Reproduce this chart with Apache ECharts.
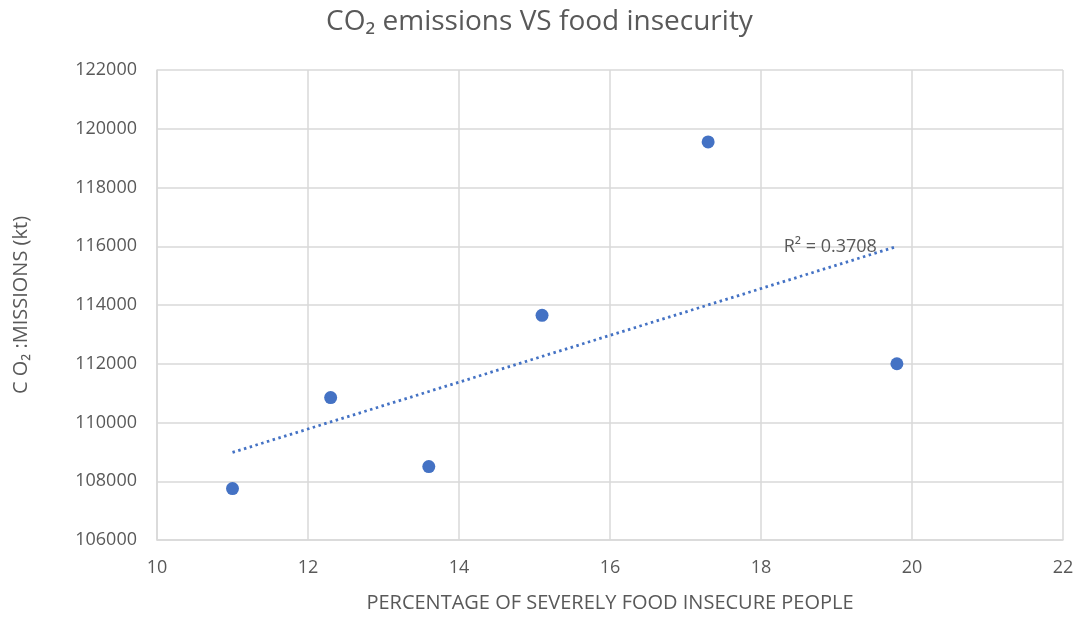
<!DOCTYPE html>
<html>
<head>
<meta charset="utf-8">
<script src="https://cdn.jsdelivr.net/npm/echarts@6/dist/echarts.min.js"></script>
<style>html,body{margin:0;padding:0;background:#fff;}#c{width:1079px;height:618px;}</style>
</head>
<body>
<div id="c"></div>
<script>
const titleText = 'CO₂ emissions VS food insecurity';
const xName = 'PERCENTAGE OF SEVERELY FOOD INSECURE PEOPLE';
const yName = 'C O₂ :MISSIONS (kt)';
const foodInsecurity = [11.0, 12.3, 13.6, 15.1, 17.3, 19.8];
const co2Emissions = [107750, 110850, 108500, 113650, 119550, 112000];
const r2Text = 'R² = 0.3708';

const n = foodInsecurity.length;
const mx = foodInsecurity.reduce((a, b) => a + b, 0) / n;
const my = co2Emissions.reduce((a, b) => a + b, 0) / n;
let sxy = 0, sxx = 0;
for (let i = 0; i < n; i++) {
  sxy += (foodInsecurity[i] - mx) * (co2Emissions[i] - my);
  sxx += (foodInsecurity[i] - mx) ** 2;
}
const slope = sxy / sxx, icpt = my - slope * mx;
const xMin = Math.min(...foodInsecurity), xMax = Math.max(...foodInsecurity);
const trend = [[xMin, icpt + slope * xMin], [xMax, icpt + slope * xMax]];

const font = 'Open Sans';
const chart = echarts.init(document.getElementById('c'));
chart.setOption({
  animation: false,
  title: {
    text: titleText, left: 'center', top: 3,
    textStyle: { fontFamily: font, fontSize: 28, fontWeight: 'normal', color: '#595959' }
  },
  grid: { left: 157, right: 16, top: 70, bottom: 76 },
  xAxis: {
    type: 'value', min: 10, max: 22, interval: 2,
    name: xName, nameLocation: 'middle', nameGap: 53,
    nameTextStyle: { fontFamily: font, fontSize: 20, color: '#595959' },
    axisLine: { show: true, lineStyle: { color: '#d9d9d9', width: 1.5 } },
    axisTick: { show: false },
    axisLabel: { fontFamily: font, fontSize: 18, color: '#595959', margin: 19 },
    splitLine: { show: true, lineStyle: { color: '#d9d9d9', width: 1.5 } }
  },
  yAxis: {
    type: 'value', min: 106000, max: 122000, interval: 2000,
    name: yName, nameLocation: 'middle', nameGap: 126,
    nameTextStyle: { fontFamily: font, fontSize: 20, color: '#595959' },
    axisLine: { show: true, lineStyle: { color: '#d9d9d9', width: 1.5 } },
    axisTick: { show: false },
    axisLabel: { fontFamily: font, fontSize: 18, color: '#595959', margin: 20, formatter: v => String(v) },
    splitLine: { show: true, lineStyle: { color: '#d9d9d9', width: 1.5 } }
  },
  series: [
    {
      type: 'scatter',
      data: foodInsecurity.map((x, i) => [x, co2Emissions[i]]),
      symbolSize: 13,
      itemStyle: { color: '#4472c4', opacity: 1 },
      z: 3
    },
    {
      type: 'line',
      data: trend,
      showSymbol: false,
      symbol: 'none',
      lineStyle: { color: '#4472c4', width: 2.8, type: [2.5, 3.5] },
      z: 2,
      markPoint: {
        symbol: 'circle', symbolSize: 0,
        data: [{ coord: trend[1], value: r2Text }],
        label: {
          show: true, position: 'left', distance: 20,
          formatter: r2Text,
          fontFamily: font, fontSize: 18, color: '#595959'
        }
      }
    }
  ]
});
</script>
</body>
</html>
